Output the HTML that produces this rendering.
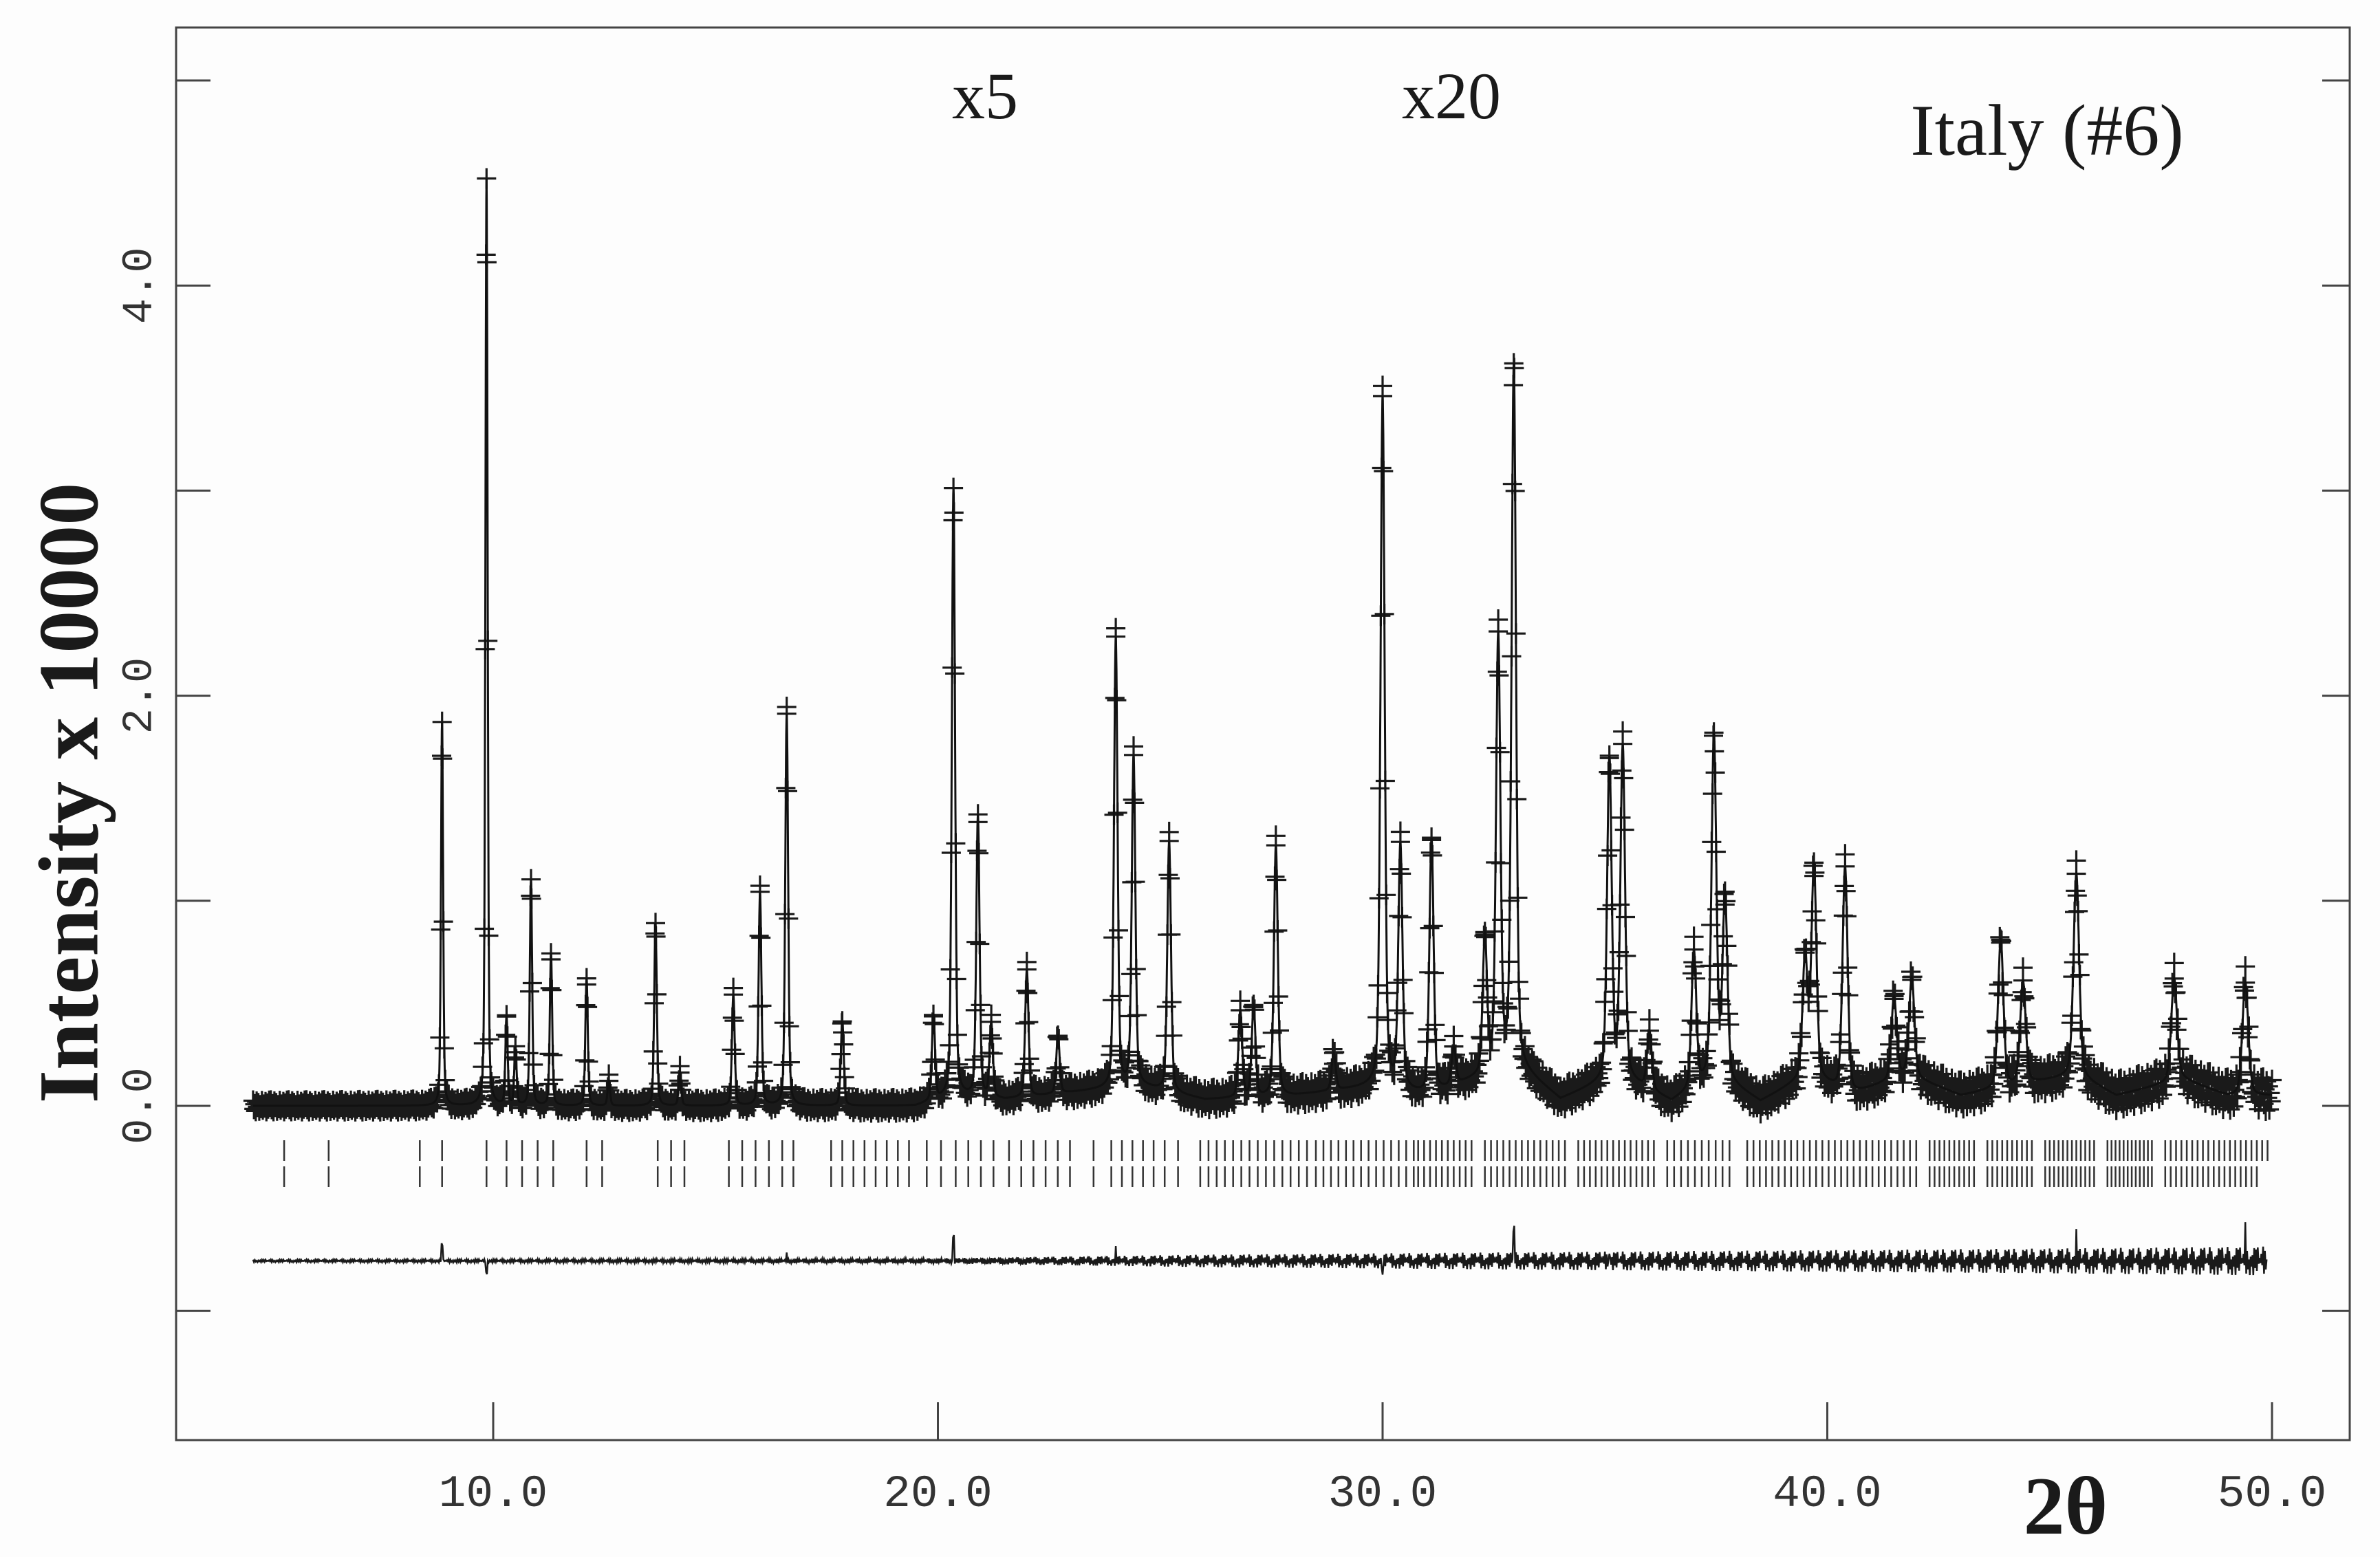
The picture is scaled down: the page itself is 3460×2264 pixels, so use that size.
<!DOCTYPE html>
<html><head><meta charset="utf-8">
<style>
html,body{margin:0;padding:0;background:#fdfdfd;}
svg{display:block;}
</style></head>
<body>
<svg id="chart" xmlns="http://www.w3.org/2000/svg" width="3460" height="2264" viewBox="0 0 3460 2264">
<rect x="0" y="0" width="3460" height="2264" fill="#fdfdfd"/>
<g id="plot"></g>
<text x="100" y="1153" transform="rotate(-90 100 1153)" text-anchor="middle" dominant-baseline="central" font-family="Liberation Serif, serif" font-weight="bold" font-size="124" fill="#1a1a1a">Intensity x 10000</text>
<text x="3003" y="2230" text-anchor="middle" font-family="Liberation Serif, serif" font-weight="bold" font-size="120" fill="#1a1a1a">2θ</text>
<text x="1432" y="172" text-anchor="middle" font-family="Liberation Serif, serif" font-size="96" fill="#1a1a1a">x5</text>
<text x="2110" y="172" text-anchor="middle" font-family="Liberation Serif, serif" font-size="96" fill="#1a1a1a">x20</text>
<text x="2976" y="225" text-anchor="middle" font-family="Liberation Serif, serif" font-size="106" fill="#1a1a1a">Italy (#6)</text>
</svg>
<script>
// ---- data ----
const xTicks = [10, 20, 30, 40, 50];
const xTickLabels = ["10.0", "20.0", "30.0", "40.0", "50.0"];
const yTicks = [5, 4, 3, 2, 1, 0, -1];
const yTickLabels = ["", "4.0", "", "2.0", "", "0.0", ""];
const peakPos = [8.85,9.85,10.3,10.5,10.85,11.3,12.1,12.6,13.65,14.2,15.4,16.0,16.6,17.85,19.9,20.35,20.9,21.2,22.0,22.7,24.0,24.4,25.2,26.8,27.1,27.6,28.9,30.0,30.4,31.1,31.6,32.3,32.6,32.95,35.1,35.4,36.0,37.0,37.45,37.7,39.5,39.7,40.4,41.5,41.9,43.9,44.4,45.6,47.8,49.4];
const peakHeight = [1.87,4.52,0.43,0.28,1.1,0.74,0.62,0.12,0.89,0.16,0.54,1.04,1.91,0.41,0.41,2.96,1.37,0.36,0.62,0.28,2.19,1.6,1.22,0.42,0.44,1.22,0.18,3.35,1.18,1.24,0.18,0.66,2.1,3.4,1.55,1.6,0.28,0.66,1.65,0.88,0.58,1.02,1.1,0.4,0.48,0.72,0.5,0.98,0.5,0.55];
const bgPos = [4.6,19.5,20.4,21.5,24.5,26,28,30,31,33,34,35.3,36.5,37.5,38.5,39.6,40.5,41.8,43,45.6,46.5,48,49,50];
const bgVal = [0,0,0.05,0.03,0.1,0.03,0.05,0.1,0.05,0.2,0.03,0.15,0.02,0.15,0.02,0.15,0.05,0.15,0.05,0.15,0.05,0.13,0.05,0.05];
const noisePos = [4.6, 20, 26, 35, 45, 50];
const noiseAmp = [0.025, 0.035, 0.05, 0.06, 0.07, 0.08];
const diffNoise = [0.006, 0.012, 0.03, 0.045, 0.06, 0.07];
const diffSpikePos = [8.85, 9.85, 16.6, 20.35, 24.0, 30.0, 32.95, 35.1, 45.6, 49.4];
const diffSpikeVal = [0.08, -0.06, 0.03, 0.12, 0.05, -0.1, 0.15, 0.08, 0.1, 0.12];
const noisePattern = [1,-0.6,0.3,-1,0.8,-0.2,0.5,-0.9,0.1,-0.4,0.9,-0.7,0.2,-0.3,0.7,-1,0.4,-0.5,0.95,-0.15];
const reflSingles = [5.3,6.3,8.35,8.85,9.85,10.3,10.65,11.0,11.35,12.1,12.45,13.7,14.0,14.3,15.3,15.6,15.9,16.2,16.5,16.75];
const reflGroupStart = [17.6,19.75,20.4,21.6,23.5,23.9,25.1,25.9,28.5,30.8,32.3,34.4,36.4,38.2,42.3,43.6,44.9,46.3,47.6];
const reflGroupEnd   = [19.35,20.07,21.25,22.97,23.5,24.85,25.4,28.3,30.7,32.0,34.1,36.1,37.8,42.0,43.3,44.6,46.0,47.3,49.9];
const reflGroupCount = [8,2,4,6,1,5,2,14,14,10,14,14,10,28,10,10,12,12,20];

// ---- scales ----
const X0 = 256, X1 = 3416, Y0 = 40, Y1 = 2094;
function sx(t){ return 717 + (t - 10) * 64.65; }
function sy(v){ return 1608 - v * 298.2; }
const NS = "http://www.w3.org/2000/svg";
const plot = document.getElementById('plot');
function mk(tag, attrs){ const e = document.createElementNS(NS, tag); for (const k in attrs) e.setAttribute(k, attrs[k]); return e; }
function interp(xs, ys, t){
  if (t <= xs[0]) return ys[0];
  for (let i = 1; i < xs.length; i++) if (t <= xs[i]) { const f = (t - xs[i-1])/(xs[i]-xs[i-1]); return ys[i-1] + f*(ys[i]-ys[i-1]); }
  return ys[ys.length-1];
}
function calc(t){
  let v = interp(bgPos, bgVal, t);
  for (let i = 0; i < peakPos.length; i++){
    const w = 0.035 + 0.0025*peakPos[i];
    const d = (t - peakPos[i]) / (w/2);
    v += peakHeight[i] * (0.35/(1+d*d) + 0.65*Math.exp(-0.693*d*d));
  }
  return v;
}

// frame
const frame = mk('rect', {x:X0, y:Y0, width:X1-X0, height:Y1-Y0, fill:'none', stroke:'#444', 'stroke-width':3});


plot.appendChild(frame);

// x ticks
xTicks.forEach((t, i) => {
  const l = mk('line', {x1:sx(t), x2:sx(t), y1:Y1, y2:Y1-55, stroke:'#444', 'stroke-width':3});
  
  
  plot.appendChild(l);
  const tx = mk('text', {x:sx(t), y:2190, 'text-anchor':'middle', 'font-family':'Liberation Mono, monospace', 'font-size':66, fill:'#333'});
  tx.textContent = xTickLabels[i];
  
  
  plot.appendChild(tx);
});
// y ticks
yTicks.forEach((v, i) => {
  const l = mk('line', {x1:X0, x2:X0+50, y1:sy(v), y2:sy(v), stroke:'#444', 'stroke-width':3});
  
  
  plot.appendChild(l);
  const r = mk('line', {x1:X1-40, x2:X1, y1:sy(v), y2:sy(v), stroke:'#444', 'stroke-width':3});
  
  
  plot.appendChild(r);
  if (yTickLabels[i]) {
    const tx = mk('text', {x:203, y:sy(v), 'text-anchor':'middle', 'dominant-baseline':'central', 'font-family':'Liberation Mono, monospace', 'font-size':62, fill:'#333', transform:'rotate(-90 203 '+sy(v)+')'});
    tx.textContent = yTickLabels[i];
    
    
    plot.appendChild(tx);
  }
});

// observed markers
let obs = '', cal = '';
let k = 0;
for (let t = 4.6; t <= 50.0001; t += 0.02, k++){
  const c = calc(t);
  const n = interp(noisePos, noiseAmp, t) * noisePattern[k % noisePattern.length];
  const X = sx(t), Yo = sy(c + n);
  obs += 'M' + (X-14).toFixed(1) + ' ' + Yo.toFixed(1) + 'h28M' + X.toFixed(1) + ' ' + (Yo-15).toFixed(1) + 'v30';
}
// peak apex markers
peakPos.forEach(p => {
  const X = sx(p), Yo = sy(calc(p));
  obs += 'M' + (X-14).toFixed(1) + ' ' + Yo.toFixed(1) + 'h28M' + X.toFixed(1) + ' ' + (Yo-15).toFixed(1) + 'v30';
});
// calculated line (fine sampling)
k = 0;
for (let t = 4.6; t <= 50.0001; t += 0.005, k++){
  cal += (k ? 'L' : 'M') + sx(t).toFixed(1) + ' ' + sy(calc(t)).toFixed(1);
}
const obsPath = mk('path', {d:obs, stroke:'#1a1a1a', 'stroke-width':3.2, fill:'none'});


plot.appendChild(obsPath);
const calPath = mk('path', {d:cal, stroke:'#111', 'stroke-width':3, fill:'none'});


plot.appendChild(calPath);

// reflection markers
let refl = [...reflSingles];
reflGroupStart.forEach((s, i) => {
  const n = reflGroupCount[i];
  for (let j = 0; j < n; j++) refl.push(n === 1 ? s : s + (reflGroupEnd[i]-s)*j/(n-1));
});
let r1 = '', r2 = '';
refl.forEach(t => {
  r1 += 'M' + sx(t).toFixed(1) + ' 1658v30';
  if (t < 49.75) r2 += 'M' + sx(t).toFixed(1) + ' 1696v30';
});
const rp1 = mk('path', {d:r1, stroke:'#333', 'stroke-width':2.5});


plot.appendChild(rp1);
const rp2 = mk('path', {d:r2, stroke:'#333', 'stroke-width':2.5});


plot.appendChild(rp2);

// difference curve
let dd = ''; k = 0;
for (let t = 4.6; t <= 49.9; t += 0.02, k++){
  let v = -0.756 + interp(noisePos, diffNoise, t) * noisePattern[(k*7) % noisePattern.length];
  for (let i = 0; i < diffSpikePos.length; i++) if (Math.abs(t - diffSpikePos[i]) < 0.011) v += diffSpikeVal[i];
  dd += (k ? 'L' : 'M') + sx(t).toFixed(1) + ' ' + sy(v).toFixed(1);
}
const dp = mk('path', {d:dd, stroke:'#1a1a1a', 'stroke-width':2.5, fill:'none'});


plot.appendChild(dp);
</script>
</body></html>
